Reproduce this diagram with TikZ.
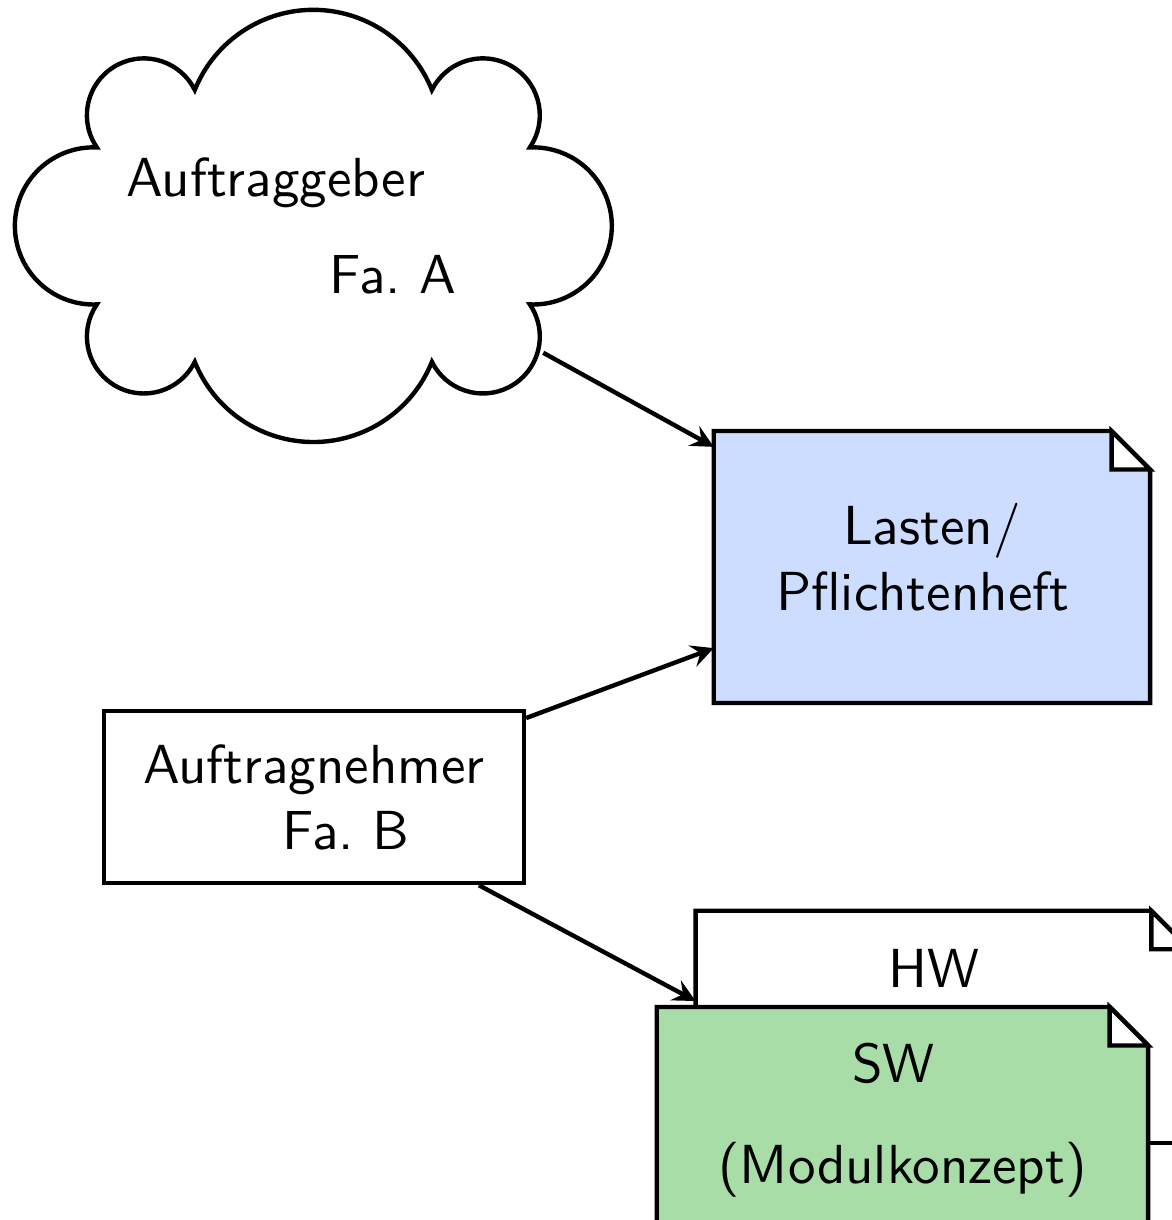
\documentclass[tikz,border=0pt]{standalone}
\usepackage{tikz}
\usetikzlibrary{shapes.geometric,backgrounds,arrows}
\definecolor{lastenblue}{RGB}{204,221,255}
\definecolor{swgreen}{RGB}{168,221,168}
\tikzset{
  doc/.style={rectangle, thick, minimum width=#1, minimum height=1.71cm, align=center, font=\sffamily},
  pfeil/.style={thick,-stealth},
}
\newcommand{\docbg}[2]{%
  \filldraw[thick,fill=#2] (#1.north west) -- ([xshift=-7pt]#1.north east) -- ([yshift=-7pt]#1.north east) -- (#1.south east) -- (#1.south west) -- cycle;
  \filldraw[thick,fill=white] ([xshift=-7pt]#1.north east) |- ([yshift=-7pt]#1.north east) -- cycle;
}
\begin{document}
\begin{tikzpicture}
\useasboundingbox (0,0) rectangle (7.489,-7.796);
\node[ellipse, thick, inner sep=0pt, minimum width=3.665cm, minimum height=2.645cm, align=left, font=\sffamily] (geber) at (2.003,-1.444) {Auftraggeber\\[5.6pt]\hspace*{36.9pt}Fa.\ A\rule{8pt}{0pt}};
% wolke
\draw[thick] ([shift={(0.757,0.869)}]geber.center)
  arc[start angle=21.9, end angle=158.1, radius=0.8166]
  arc[start angle=26.4, end angle=214.4, radius=0.3637]
  arc[start angle=87.5, end angle=272.5, radius=0.502]
  arc[start angle=145.6, end angle=333.6, radius=0.3637]
  arc[start angle=-158.1, end angle=-21.9, radius=0.8166]
  arc[start angle=-153.6, end angle=34.4, radius=0.3637]
  arc[start angle=-92.5, end angle=92.5, radius=0.502]
  arc[start angle=-34.4, end angle=153.6, radius=0.3637] -- cycle;
\node[doc=2.76cm] (lasten) at (5.955,-3.623) {Lasten/\\Pflichtenheft~\strut};
\node[draw, thick, minimum width=2.684cm, minimum height=1.099cm, align=center, font=\sffamily] (nehmer) at (2.006,-5.093) {Auftragnehmer\\\hspace*{11.5pt}Fa.\ B};
\node[doc=3.13cm, minimum height=2.812cm, text depth=60pt] (hw) at (6.024,-7.240) {\mbox{HW\ }};
\node[doc=3.112cm] (sw) at (5.767,-7.304) {\mbox{SW\ }\\[6.4pt](Modulkonzept)\rule[-10.7pt]{0pt}{0pt}};
\coordinate (weiter) at (8,-7.304);
\begin{scope}[on background layer]
\docbg{hw}{white}
\docbg{sw}{swgreen}
\docbg{lasten}{lastenblue}
\end{scope}
\draw[pfeil] (geber) -- (lasten);
\draw[pfeil] (nehmer) -- (lasten);
\draw[pfeil] (nehmer) -- (hw);
\draw[thick] (sw) -- (weiter);
\end{tikzpicture}
\end{document}
